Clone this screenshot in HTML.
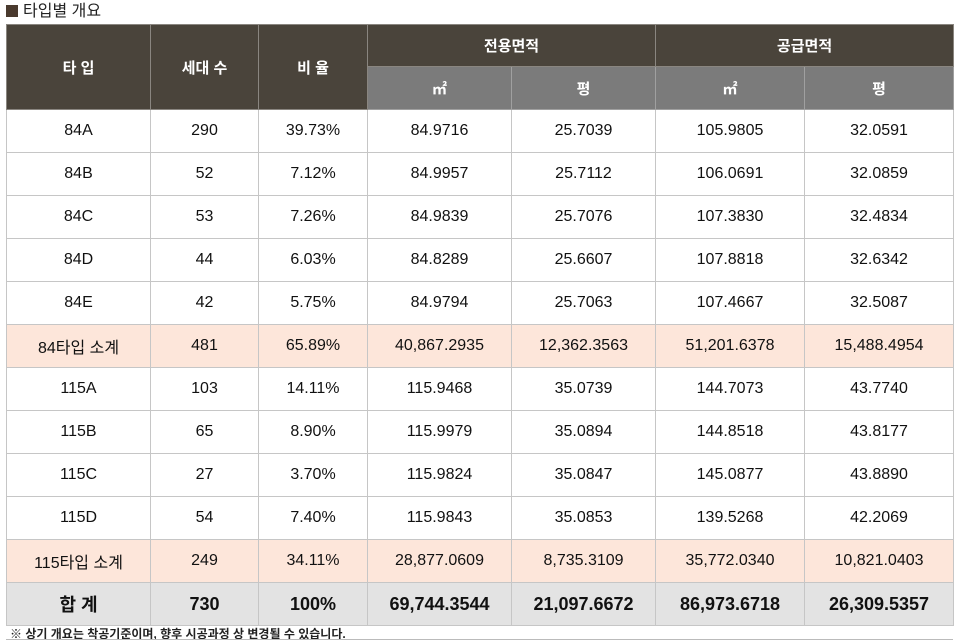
<!DOCTYPE html>
<html><head><meta charset="utf-8">
<style>
body{margin:0;width:960px;height:641px;background:#fff;overflow:hidden;font-family:"Liberation Sans","Noto Sans CJK KR",sans-serif;position:relative}
.title{position:absolute;left:6px;top:3px;font-size:16px;color:#222;line-height:18px}
.title span{display:inline-block;width:12px;height:12px;background:#4a3a2e;margin-right:5px;vertical-align:-1px}
table{position:absolute;left:6px;top:24px;border-collapse:collapse;table-layout:fixed;width:947px}
td,th{border:1px solid #c6c6c6;text-align:center;font-size:16px;color:#111;padding:0;font-weight:normal}
th{background:#4a443b;color:#fff;font-weight:bold;font-size:15px;border-color:#8a8680}
th.sub{background:#7b7b7b;border-color:#a0a0a0}
tr.r td{height:42px}
tr.s td{background:#fde6da}
tr.t td{background:#e3e3e3;font-weight:bold;font-size:18px}
.note{position:absolute;left:10px;top:625px;font-size:12px;font-weight:bold;color:#222}
.line{position:absolute;left:6px;top:639px;width:947px;height:1px;background:#bbb}
</style></head><body>
<div class="title"><span></span>타입별 개요</div>
<table>
<colgroup><col style="width:144px"><col style="width:108px"><col style="width:109px"><col style="width:144px"><col style="width:144px"><col style="width:149px"><col style="width:149px"></colgroup>
<tr style="height:42px"><th rowspan="2">타 입</th><th rowspan="2">세대 수</th><th rowspan="2">비 율</th><th colspan="2">전용면적</th><th colspan="2">공급면적</th></tr>
<tr style="height:43px"><th class="sub">㎡</th><th class="sub">평</th><th class="sub">㎡</th><th class="sub">평</th></tr>
<tr class="r"><td>84A</td><td>290</td><td>39.73%</td><td>84.9716</td><td>25.7039</td><td>105.9805</td><td>32.0591</td></tr>
<tr class="r"><td>84B</td><td>52</td><td>7.12%</td><td>84.9957</td><td>25.7112</td><td>106.0691</td><td>32.0859</td></tr>
<tr class="r"><td>84C</td><td>53</td><td>7.26%</td><td>84.9839</td><td>25.7076</td><td>107.3830</td><td>32.4834</td></tr>
<tr class="r"><td>84D</td><td>44</td><td>6.03%</td><td>84.8289</td><td>25.6607</td><td>107.8818</td><td>32.6342</td></tr>
<tr class="r"><td>84E</td><td>42</td><td>5.75%</td><td>84.9794</td><td>25.7063</td><td>107.4667</td><td>32.5087</td></tr>
<tr class="r s"><td>84타입 소계</td><td>481</td><td>65.89%</td><td>40,867.2935</td><td>12,362.3563</td><td>51,201.6378</td><td>15,488.4954</td></tr>
<tr class="r"><td>115A</td><td>103</td><td>14.11%</td><td>115.9468</td><td>35.0739</td><td>144.7073</td><td>43.7740</td></tr>
<tr class="r"><td>115B</td><td>65</td><td>8.90%</td><td>115.9979</td><td>35.0894</td><td>144.8518</td><td>43.8177</td></tr>
<tr class="r"><td>115C</td><td>27</td><td>3.70%</td><td>115.9824</td><td>35.0847</td><td>145.0877</td><td>43.8890</td></tr>
<tr class="r"><td>115D</td><td>54</td><td>7.40%</td><td>115.9843</td><td>35.0853</td><td>139.5268</td><td>42.2069</td></tr>
<tr class="r s"><td>115타입 소계</td><td>249</td><td>34.11%</td><td>28,877.0609</td><td>8,735.3109</td><td>35,772.0340</td><td>10,821.0403</td></tr>
<tr class="r t"><td>합 계</td><td>730</td><td>100%</td><td>69,744.3544</td><td>21,097.6672</td><td>86,973.6718</td><td>26,309.5357</td></tr>
</table>
<div class="note">※ 상기 개요는 착공기준이며, 향후 시공과정 상 변경될 수 있습니다.</div>
<div class="line"></div>
</body></html>
